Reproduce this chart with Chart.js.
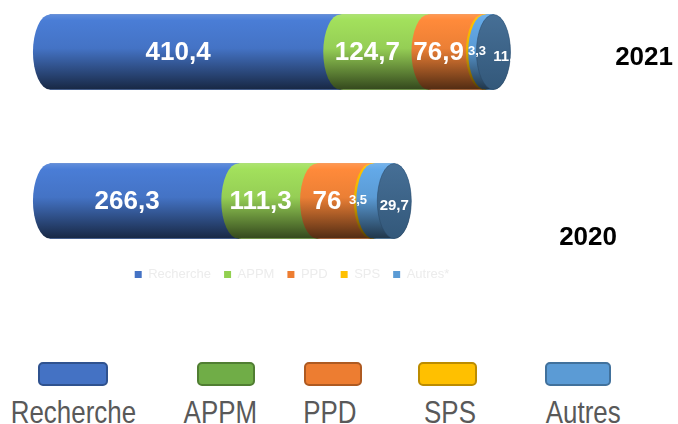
<!DOCTYPE html>
<html lang="fr">
<head>
<meta charset="utf-8">
<title>Répartition 2020 - 2021</title>
<script src="https://cdn.jsdelivr.net/npm/chart.js@4.4.1/dist/chart.umd.min.js"></script>
<style>
  html, body { margin: 0; padding: 0; background: #fff; }
  body { width: 678px; height: 424px; overflow: hidden; position: relative; font-family: "Liberation Sans", Arial, sans-serif; }
  #zone { position: absolute; left: 0; top: 0; width: 678px; height: 291px; }
  .cle { position: absolute; top: 362px; height: 24px; box-sizing: border-box; border: 2px solid; border-radius: 5px; }
  .nom { position: absolute; top: 396px; width: 160px; margin-left: -80px; text-align: center;
         font-size: 32px; line-height: 32px; color: #595959; }
  .nom span { display: inline-block; transform: scaleX(0.81); }
</style>
</head>
<body>
<div id="zone"><canvas id="graphique"></canvas></div>
<div id="legende"></div>

<script>
const annees = ["2021", "2020"];
const series = ["Recherche", "APPM", "PPD", "SPS", "Autres*"];
const recherche = [410.4, 266.3];
const appm = [124.7, 111.3];
const ppd = [76.9, 76];
const sps = [3.3, 3.5];
const autres = [11.7, 29.7];
const nomsLegende = ["Recherche", "APPM", "PPD", "SPS", "Autres"];

const couleurs = ["#4472c4", "#92d050", "#ed7d31", "#ffc000", "#5b9bd5"];
// teintes des cylindres (plus vives que la légende)
const teintes = ["#4a7dd6", "#a2e05c", "#ff8a3a", "#ffc000", "#63a9e8"];
const couleurFond = "#3c6790";

function nuance(hex, f) {
  const n = parseInt(hex.slice(1), 16);
  const c = [(n >> 16) & 255, (n >> 8) & 255, n & 255].map(v => {
    const r = f > 1 ? v + (255 - v) * (f - 1) : v * f;
    return Math.round(Math.max(0, Math.min(255, r)));
  });
  return `rgb(${c[0]},${c[1]},${c[2]})`;
}

function formater(v) {
  return String(v).replace(".", ",");
}

const RX = 17;

const cylindres = {
  id: "cylindres",
  afterDatasetsDraw(chart) {
    const ctx = chart.ctx;
    const n = chart.data.datasets.length;
    ctx.save();
    annees.forEach((annee, i) => {
      let dernier = null;
      for (let d = 0; d < n; d++) {
        const el = chart.getDatasetMeta(d).data[i];
        const { x, y, base, height } = el.getProps(["x", "y", "base", "height"], true);
        const ry = height / 2;
        const haut = y - ry, bas = y + ry;
        const g = ctx.createLinearGradient(0, haut, 0, bas);
        g.addColorStop(0, nuance(teintes[d], 1.12));
        g.addColorStop(0.08, teintes[d]);
        g.addColorStop(0.45, nuance(teintes[d], 0.92));
        g.addColorStop(1, nuance(teintes[d], 0.32));
        ctx.beginPath();
        ctx.moveTo(x, haut);
        ctx.lineTo(base, haut);
        ctx.ellipse(base, y, RX, ry, 0, -Math.PI / 2, Math.PI / 2, true);
        ctx.lineTo(x, bas);
        ctx.ellipse(x, y, RX, ry, 0, Math.PI / 2, -Math.PI / 2, true);
        ctx.closePath();
        ctx.fillStyle = g;
        ctx.fill();
        dernier = { x, y, ry };
      }
      // face du bout
      const gf = ctx.createLinearGradient(0, dernier.y - dernier.ry, 0, dernier.y + dernier.ry);
      gf.addColorStop(0, nuance(couleurFond, 1.05));
      gf.addColorStop(1, nuance(couleurFond, 0.85));
      ctx.beginPath();
      ctx.ellipse(dernier.x, dernier.y, RX, dernier.ry, 0, 0, Math.PI * 2);
      ctx.fillStyle = gf;
      ctx.fill();
      ctx.strokeStyle = "rgba(40,70,100,0.5)";
      ctx.lineWidth = 1;
      ctx.stroke();
    });

    // étiquettes de valeurs
    ctx.fillStyle = "#fff";
    ctx.textAlign = "center";
    ctx.textBaseline = "middle";
    for (let d = 0; d < n; d++) {
      const meta = chart.getDatasetMeta(d);
      meta.data.forEach((el, i) => {
        const { x, y, base } = el.getProps(["x", "y", "base"], true);
        const v = chart.data.datasets[d].data[i];
        let px, py, taille;
        if (d < 3) {
          px = (base + x) / 2 - RX; py = y + 1; taille = 26;
        } else if (d === 3) {
          px = (base + x) / 2 - (i === 0 ? 7 : 14); py = y - 1; taille = 13;
        } else {
          px = x + (i === 0 ? 14 : 0); py = y + 5; taille = 15;
        }
        ctx.font = `bold ${taille}px "Liberation Sans", Arial, sans-serif`;
        ctx.fillText(formater(v), px, py);
      });
    }

    // années à droite
    const echY = chart.scales.y;
    const places = [{ droite: 673, dy: 5.5 }, { droite: 617, dy: 36.5 }];
    ctx.fillStyle = "#000";
    ctx.textAlign = "right";
    ctx.font = 'bold 26px "Liberation Sans", Arial, sans-serif';
    annees.forEach((a, i) => {
      ctx.fillText(a, places[i].droite, echY.getPixelForValue(i) + places[i].dy);
    });
    ctx.restore();
  }
};

const valeurs = [recherche, appm, ppd, sps, autres];

new Chart(document.getElementById("graphique"), {
  type: "bar",
  data: {
    labels: annees,
    datasets: series.map((s, k) => ({
      label: s,
      data: valeurs[k],
      backgroundColor: couleurs[k],
      borderWidth: 0,
      barThickness: 75,
      clip: false
    }))
  },
  options: {
    indexAxis: "y",
    responsive: true,
    maintainAspectRatio: false,
    animation: false,
    layout: { padding: { top: 52, left: 0, right: 94, bottom: 0 } },
    scales: {
      x: {
        stacked: true,
        min: -70.6,
        max: 755,
        ticks: { display: false },
        grid: { display: false },
        border: { display: false },
        afterFit(scale) { scale.height = 54; }
      },
      y: {
        stacked: true,
        display: false,
        offset: false
      }
    },
    plugins: {
      legend: {
        position: "bottom",
        labels: {
          boxWidth: 7,
          boxHeight: 7,
          padding: 13,
          color: "#ececec",
          font: { size: 13, family: '"Liberation Sans", Arial, sans-serif' }
        }
      },
      tooltip: { enabled: false }
    }
  },
  plugins: [cylindres]
});

// légende du bas
const cles = [
  { gauche: 38, largeur: 70, centre: 73 },
  { gauche: 197, largeur: 58, centre: 220 },
  { gauche: 304, largeur: 58, centre: 330 },
  { gauche: 418, largeur: 59, centre: 450 },
  { gauche: 545, largeur: 66, centre: 583 }
];
const bordures = ["#2f528f", "#507e32", "#ae5a21", "#bc8c00", "#41719c"];
const couleursCles = ["#4472c4", "#70ad47", "#ed7d31", "#ffc000", "#5b9bd5"];
const legende = document.getElementById("legende");
nomsLegende.forEach((nom, k) => {
  const boite = document.createElement("div");
  boite.className = "cle";
  boite.style.left = cles[k].gauche + "px";
  boite.style.width = cles[k].largeur + "px";
  boite.style.background = couleursCles[k];
  boite.style.borderColor = bordures[k];
  legende.appendChild(boite);
  const t = document.createElement("div");
  t.className = "nom";
  t.style.left = cles[k].centre + "px";
  t.innerHTML = `<span>${nom}</span>`;
  legende.appendChild(t);
});
</script>
</body>
</html>
